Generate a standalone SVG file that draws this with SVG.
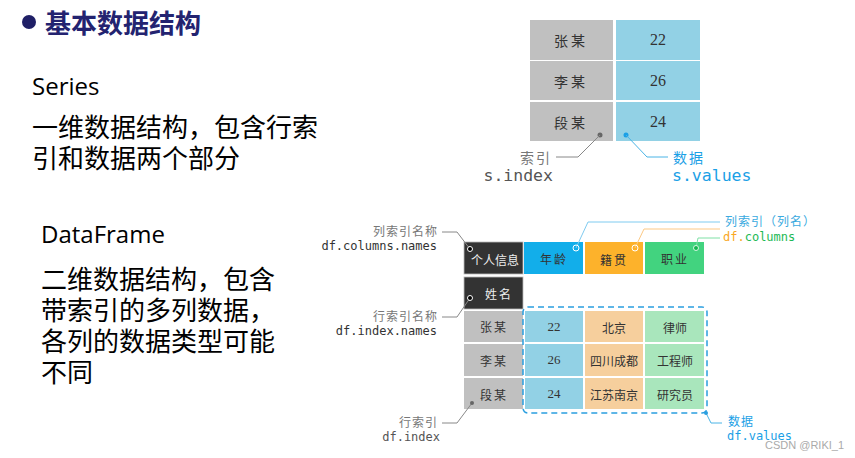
<svg xmlns="http://www.w3.org/2000/svg" width="855" height="458" viewBox="0 0 855 458">
<style>
.cjk{font-family:"Noto Sans CJK SC","Noto Sans",sans-serif}
.h{font-size:26px;font-weight:bold;fill:#232370}
.lt{font-family:"Open Sans","Noto Sans CJK SC",sans-serif;font-size:24px;fill:#000}
.lc{font-family:"Noto Sans CJK SC",sans-serif;font-size:26px;fill:#000}
.cell{font-family:"Noto Sans CJK SC",sans-serif;fill:#333;text-anchor:middle;dominant-baseline:central}
.num{font-family:"Liberation Serif","Noto Sans CJK SC",serif;fill:#333;text-anchor:middle;dominant-baseline:central}
.s14{font-size:14px}
.s12{font-size:12px}
.mono{font-family:"DejaVu Sans Mono","Liberation Mono",monospace}
.lab{font-family:"Noto Sans CJK SC",sans-serif;font-size:12px;fill:#777;letter-spacing:1px}
.ld{fill:none;stroke:#888;stroke-width:1}
.ldb{fill:none;stroke:#4ab4e6;stroke-width:1}
.gray{fill:#c0c0c0}
.sb{fill:#92d1e5}
.dark{fill:#333333;stroke:#bbb;stroke-width:0.8}
</style>
<g id="title">
<circle cx="29" cy="22" r="7" fill="#1f1f66"/>
<text x="45" y="33" class="cjk h">基本数据结构</text>
</g>
<g id="series-desc">
<text x="32" y="95" class="lt">Series</text>
<text class="lc"><tspan x="32" y="137">一维数据结构，包含行索</tspan><tspan x="32" y="168">引和数据两个部分</tspan></text>
</g>
<g id="df-desc">
<text x="41" y="243" class="lt">DataFrame</text>
<text class="lc"><tspan x="41" y="289">二维数据结构，包含</tspan><tspan x="41" y="320">带索引的多列数据，</tspan><tspan x="41" y="351">各列的数据类型可能</tspan><tspan x="41" y="382">不同</tspan></text>
</g>
<g id="series-table">
<rect x="530" y="20" width="83" height="40" class="gray"/>
<rect x="616" y="20" width="84" height="40" class="sb"/>
<rect x="530" y="61" width="83" height="39" class="gray"/>
<rect x="616" y="61" width="84" height="39" class="sb"/>
<rect x="530" y="102" width="83" height="39" class="gray"/>
<rect x="616" y="102" width="84" height="39" class="sb"/>
<text x="571" y="40" class="cell s14" letter-spacing="3">张某</text>
<text x="571" y="81" class="cell s14" letter-spacing="3">李某</text>
<text x="571" y="122" class="cell s14" letter-spacing="3">段某</text>
<text x="658" y="39" class="num" font-size="16">22</text>
<text x="658" y="80" class="num" font-size="16">26</text>
<text x="658" y="121" class="num" font-size="16">24</text>
<circle cx="600" cy="135" r="2.5" fill="#666"/>
<circle cx="626" cy="135" r="2.5" fill="#1aa0e6"/>
</g>
<g id="series-labels">
<text x="552" y="163" class="cjk" font-size="14" fill="#777" text-anchor="end" letter-spacing="2">索引</text>
<text x="553" y="181" class="mono" font-size="16.5" fill="#555" text-anchor="end">s.index</text>
<text x="673" y="163" class="cjk" font-size="14" fill="#1aa0e6" letter-spacing="2">数据</text>
<text x="672" y="181" class="mono" font-size="16.5" fill="#1aa0e6">s.values</text>
</g>
<g id="df-table">
<rect x="464" y="242" width="59" height="32" class="dark"/>
<rect x="524" y="242" width="59" height="32" fill="#12aeea"/>
<rect x="585" y="242" width="58" height="32" fill="#fdb22b"/>
<rect x="645" y="242" width="59" height="32" fill="#42d37f"/>
<rect x="464" y="277" width="59" height="32" class="dark"/>
<rect x="464" y="311" width="59" height="31" class="gray"/>
<rect x="464" y="344" width="59" height="32" class="gray"/>
<rect x="464" y="378" width="59" height="31" class="gray"/>
<rect x="525" y="311" width="58" height="31" class="sb"/>
<rect x="525" y="344" width="58" height="32" class="sb"/>
<rect x="525" y="378" width="58" height="31" class="sb"/>
<rect x="585" y="311" width="58" height="31" fill="#f6cf9d"/>
<rect x="585" y="344" width="58" height="32" fill="#f6cf9d"/>
<rect x="585" y="378" width="58" height="31" fill="#f6cf9d"/>
<rect x="645" y="311" width="59" height="31" fill="#a9e6bc"/>
<rect x="645" y="344" width="59" height="32" fill="#a9e6bc"/>
<rect x="645" y="378" width="59" height="31" fill="#a9e6bc"/>
<text x="495" y="259" class="cell s12" style="fill:#eee">个人信息</text>
<text x="554" y="258" class="cell s12" letter-spacing="2">年龄</text>
<text x="614" y="259" class="cell s12" letter-spacing="2">籍贯</text>
<text x="675" y="258" class="cell s12" letter-spacing="2">职业</text>
<text x="499" y="293" class="cell s12" style="fill:#eee" letter-spacing="2">姓名</text>
<text x="494" y="326" class="cell s12" letter-spacing="2">张某</text>
<text x="494" y="360" class="cell s12" letter-spacing="2">李某</text>
<text x="494" y="394" class="cell s12" letter-spacing="2">段某</text>
<text x="554" y="326" class="num" font-size="13">22</text>
<text x="554" y="359" class="num" font-size="13">26</text>
<text x="554" y="393" class="num" font-size="13">24</text>
<text x="614" y="327" class="cell s12">北京</text>
<text x="614" y="360" class="cell s12">四川成都</text>
<text x="614" y="394" class="cell s12">江苏南京</text>
<text x="675" y="327" class="cell s12">律师</text>
<text x="675" y="360" class="cell s12">工程师</text>
<text x="675" y="394" class="cell s12">研究员</text>
<rect x="523" y="307" width="184" height="106" rx="5" fill="none" stroke="#2a9fe0" stroke-width="1.5" stroke-dasharray="6 4"/>
</g>
<g id="connectors">
<path d="M600 135 L578 157 L556 157" class="ld"/>
<path d="M626 135 L647 157 L668 157" class="ldb"/>
<path d="M442 232 L457 232 L470 249" class="ld"/>
<path d="M442 317 L457 317 L470 298" class="ld"/>
<path d="M442 423 L457 423 L472 403" class="ld"/>
<path d="M576 248 L588 222 L720 222" fill="none" stroke="#7fcbf0" stroke-width="1"/>
<path d="M635 248 L644 229 L720 229" fill="none" stroke="#fcc985" stroke-width="1"/>
<path d="M696 248 L698 238 L720 238" fill="none" stroke="#7ee0a5" stroke-width="1"/>
<path d="M706 413 L711 423 L722 423" class="ldb"/>
<circle cx="470" cy="249" r="2.5" fill="#000" stroke="#fff" stroke-width="1"/>
<circle cx="470" cy="298" r="2.5" fill="#000" stroke="#fff" stroke-width="1"/>
<circle cx="472" cy="403" r="2" fill="#666"/>
<circle cx="576" cy="248" r="3" fill="none" stroke="#fff" stroke-width="1"/>
<circle cx="635" cy="248" r="3" fill="none" stroke="#fff" stroke-width="1"/>
<circle cx="696" cy="248" r="2.5" fill="#12b84e" stroke="#fff" stroke-width="0.8"/>
<circle cx="706" cy="413" r="2" fill="#2a9fe0"/>
</g>
<g id="df-labels">
<text x="438" y="236" class="lab" text-anchor="end">列索引名称</text>
<text x="437" y="250" class="mono" font-size="12" fill="#333" text-anchor="end">df.columns.names</text>
<text x="438" y="321" class="lab" text-anchor="end">行索引名称</text>
<text x="437" y="335" class="mono" font-size="12" fill="#333" text-anchor="end">df.index.names</text>
<text x="438" y="427" class="lab" text-anchor="end">行索引</text>
<text x="440" y="441" class="mono" font-size="12" fill="#555" text-anchor="end">df.index</text>
<text x="725" y="226" class="lab" style="fill:#3aaae0">列索引（列名）</text>
<text x="723" y="241" class="mono" font-size="12"><tspan fill="#f9a825">df.</tspan><tspan fill="#1bb954">columns</tspan></text>
<text x="728" y="426" class="lab" style="fill:#1aa0e6">数据</text>
<text x="727" y="440" class="mono" font-size="12" fill="#1aa0e6">df.values</text>
</g>
<text x="765" y="449" font-family="Liberation Sans,Arial,sans-serif" font-size="11" fill="#aaa">CSDN @RIKI_1</text>
</svg>
